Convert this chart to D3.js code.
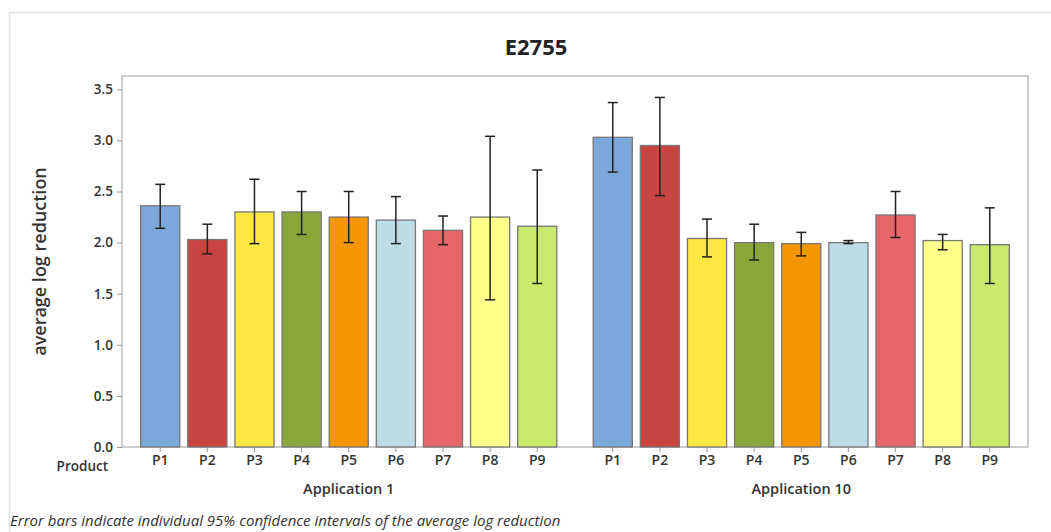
<!DOCTYPE html>
<html>
<head>
<meta charset="utf-8">
<script src="https://cdn.jsdelivr.net/npm/d3@7"></script>
<style>
	body { margin: 0; background: #fff; }
	text { font-family: "Open Sans", "Noto Sans", sans-serif; }
</style>
</head>
<body>
<svg id="chart"></svg>
<script>
// average log reduction per product, two applications, with 95% CI bars
var groups = ['Application 1', 'Application 10'];
var products = ['P1', 'P2', 'P3', 'P4', 'P5', 'P6', 'P7', 'P8', 'P9'];
var colors = ['#7ba7da', '#c84441', '#ffe843', '#8aa53a', '#f49502', '#bedce6', '#e6676a', '#ffff8a', '#c9e96a'];

var app1Mean = [2.36, 2.03, 2.30, 2.30, 2.25, 2.22, 2.12, 2.25, 2.16];
var app1Low  = [2.14, 1.89, 1.99, 2.08, 2.00, 1.99, 1.98, 1.44, 1.60];
var app1High = [2.57, 2.18, 2.62, 2.50, 2.50, 2.45, 2.26, 3.04, 2.71];

var app10Mean = [3.03, 2.95, 2.04, 2.00, 1.99, 2.00, 2.27, 2.02, 1.98];
var app10Low  = [2.69, 2.46, 1.86, 1.83, 1.87, 1.99, 2.05, 1.93, 1.60];
var app10High = [3.37, 3.42, 2.23, 2.18, 2.10, 2.02, 2.50, 2.08, 2.34];

var yTicks = [0, 0.5, 1, 1.5, 2, 2.5, 3, 3.5];

var data = [];
[[app1Mean, app1Low, app1High], [app10Mean, app10Low, app10High]].forEach(function(s, gi) {
	products.forEach(function(p, i) {
		data.push({group: groups[gi], product: p, color: colors[i], mean: s[0][i], low: s[1][i], high: s[2][i]});
	});
});

var W = 1051, H = 532;
var margin = {top: 76, right: 23, bottom: 85, left: 122};
var width = W - margin.left - margin.right;
var height = H - margin.top - margin.bottom;

var svg = d3.select('#chart').attr('width', W).attr('height', H);

// outer light frame
svg.append('path')
	.attr('d', 'M9.5,532V12.5H1051')
	.attr('fill', 'none')
	.attr('stroke', '#e3e3e3')
	.attr('stroke-width', 1.5);

svg.append('text')
	.attr('x', 536).attr('y', 55)
	.attr('text-anchor', 'middle')
	.attr('font-size', 22).attr('font-weight', 700)
	.attr('fill', '#222')
	.text('E2755');

var g = svg.append('g').attr('transform', 'translate(' + margin.left + ',' + margin.top + ')');

var x0 = d3.scaleBand()
	.domain(groups)
	.range([0, width])
	.paddingInner(0.045)
	.paddingOuter(0.0235);

var x1 = d3.scaleBand()
	.domain(products)
	.range([0, x0.bandwidth()])
	.padding(0.17);

var y = d3.scaleLinear()
	.domain([0, 3.63])
	.range([height, 0]);

// frame
g.append('rect')
	.attr('width', width).attr('height', height)
	.attr('fill', 'none')
	.attr('stroke', '#bdbdbd')
	.attr('stroke-width', 1.5);

var yAxis = g.append('g')
	.call(d3.axisLeft(y).tickValues(yTicks).tickFormat(d3.format('.1f')).tickSize(5).tickPadding(4));
yAxis.select('.domain').remove();
yAxis.selectAll('line').attr('stroke', '#999');
yAxis.selectAll('text').attr('font-size', 13.5).attr('font-weight', 600).attr('fill', '#333')
	.attr('font-family', '"Open Sans", sans-serif');

var gg = g.selectAll('.grp')
	.data(groups)
	.join('g')
		.attr('class', 'grp')
		.attr('transform', function(d) { return 'translate(' + x0(d) + ',0)'; });

gg.each(function(grp) {
	var ax = d3.select(this).append('g')
		.attr('transform', 'translate(0,' + height + ')')
		.call(d3.axisBottom(x1).tickSize(5).tickPadding(3));
	ax.select('.domain').remove();
	ax.selectAll('line').attr('stroke', '#999');
	ax.selectAll('text').attr('font-size', 14).attr('font-weight', 600).attr('fill', '#333')
		.attr('font-family', '"Open Sans", sans-serif');

	d3.select(this).append('text')
		.attr('x', x0.bandwidth() / 2).attr('y', height + 47)
		.attr('text-anchor', 'middle')
		.attr('font-size', 14.5).attr('font-weight', 600).attr('fill', '#333')
		.text(grp);

	var rows = data.filter(function(d) { return d.group === grp; });

	d3.select(this).selectAll('.bar')
		.data(rows)
		.join('rect')
			.attr('class', 'bar')
			.attr('x', function(d) { return x1(d.product); })
			.attr('width', x1.bandwidth())
			.attr('y', function(d) { return y(d.mean); })
			.attr('height', function(d) { return height - y(d.mean); })
			.attr('fill', function(d) { return d.color; })
			.attr('stroke', '#777')
			.attr('stroke-width', 1.3);

	var eb = d3.select(this).selectAll('.err')
		.data(rows)
		.join('g')
			.attr('class', 'err')
			.attr('transform', function(d) { return 'translate(' + (x1(d.product) + x1.bandwidth() / 2) + ',0)'; })
			.attr('stroke', '#222')
			.attr('stroke-width', 1.5);
	eb.append('line')
		.attr('y1', function(d) { return y(d.low); })
		.attr('y2', function(d) { return y(d.high); });
	eb.append('line')
		.attr('x1', -5).attr('x2', 5)
		.attr('y1', function(d) { return y(d.high); })
		.attr('y2', function(d) { return y(d.high); });
	eb.append('line')
		.attr('x1', -5).attr('x2', 5)
		.attr('y1', function(d) { return y(d.low); })
		.attr('y2', function(d) { return y(d.low); });
});

g.append('text')
	.attr('x', -14).attr('y', height + 24)
	.attr('text-anchor', 'end')
	.attr('font-size', 13.5).attr('font-weight', 600).attr('fill', '#333')
	.text('Product');

svg.append('text')
	.attr('transform', 'translate(46,' + (margin.top + height / 2) + ') rotate(-90)')
	.attr('text-anchor', 'middle')
	.attr('font-size', 18).attr('font-weight', 600).attr('fill', '#333')
	.text('average log reduction');

svg.append('text')
	.attr('x', 10).attr('y', 526)
	.attr('font-size', 15).attr('font-style', 'italic').attr('fill', '#333')
	.text('Error bars indicate individual 95% confidence intervals of the average log reduction');
</script>
</body>
</html>
